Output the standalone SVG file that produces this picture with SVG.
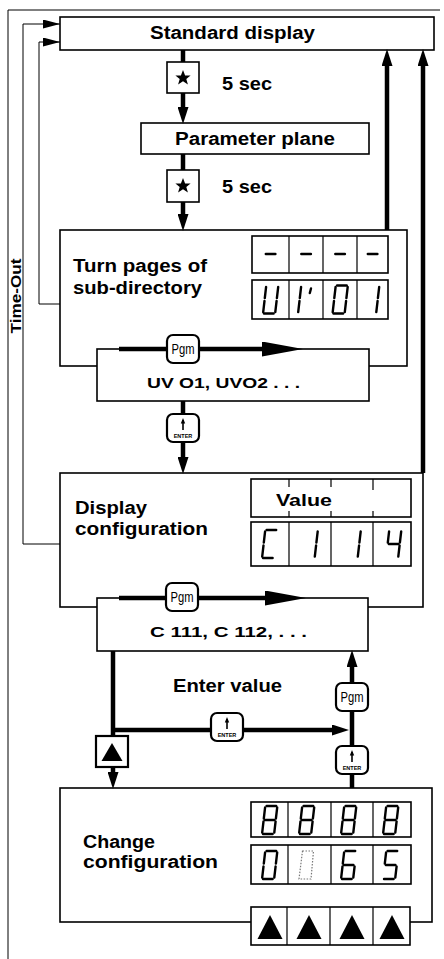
<svg xmlns="http://www.w3.org/2000/svg" xmlns:xlink="http://www.w3.org/1999/xlink" width="444" height="959" viewBox="0 0 444 959">
<style>
text{font-family:"Liberation Sans",Arial,sans-serif;font-weight:bold;fill:#000}
.box{fill:#fff;stroke:#000;stroke-width:1.6}
.thin{fill:none;stroke:#000;stroke-width:1}
.thick{fill:none;stroke:#000;stroke-width:4.5}
.btn{fill:#fff;stroke:#000;stroke-width:2.2}
.cell{fill:#fff;stroke:#000;stroke-width:1.6}
.div{stroke:#000;stroke-width:1.2}
.seg{stroke:#000;stroke-width:2.4;stroke-linecap:round;fill:none}
.segg{stroke:#777;stroke-width:1.2;stroke-dasharray:1.5 1.5;fill:none}
.lbl{font-size:18px}
.code{font-size:15px}
</style>
<defs>
<marker id="ah" markerUnits="userSpaceOnUse" markerWidth="18" markerHeight="11" refX="8" refY="5.5" orient="auto">
<path d="M0,0 L17,5.5 L0,11 z" fill="#000"/>
</marker>
<marker id="ahs" markerUnits="userSpaceOnUse" markerWidth="18" markerHeight="10" refX="17" refY="4.5" orient="auto">
<path d="M0,0 L17,4.5 L0,9 z" fill="#000"/>
</marker>
<marker id="ahb" markerUnits="userSpaceOnUse" markerWidth="42" markerHeight="16" refX="20" refY="7.5" orient="auto">
<path d="M0,0 L41,7.5 L0,15 z" fill="#000"/>
</marker>
<path id="sa" class="seg" d="M4.6,0 L14.2,0"/>
<path id="sb" class="seg" d="M15.2,1.4 L13.9,12.6"/>
<path id="sc" class="seg" d="M13.6,15.4 L12.3,26.6"/>
<path id="sd" class="seg" d="M1,28 L10.6,28"/>
<path id="se" class="seg" d="M0.2,26.6 L1.5,15.4"/>
<path id="sf" class="seg" d="M1.8,12.6 L3.1,1.4"/>
<path id="sg" class="seg" d="M2.8,14 L12.4,14"/>
<g id="star"><polygon points="0,-8 2.1,-2.6 7.6,-2.5 3.3,1 4.9,6.5 0,3.3 -4.9,6.5 -3.3,1 -7.6,-2.5 -2.1,-2.6" fill="#000"/></g>
<g id="enter">
<rect x="-16" y="-14" width="32" height="28" rx="6" class="btn"/>
<path d="M0,-8 V2" stroke="#000" stroke-width="1.6"/>
<path d="M-2.2,-4.5 L0,-10 L2.2,-4.5 z" fill="#000"/>
<text x="0" y="9.5" font-size="5.5" text-anchor="middle">ENTER</text>
</g>
<g id="pgm">
<rect x="-16" y="-14" width="32" height="28" rx="6" class="btn"/>
<text x="0" y="5" font-size="14" text-anchor="middle" textLength="23" lengthAdjust="spacingAndGlyphs" style="font-weight:normal">Pgm</text>
</g>
<polygon id="tri" points="0,-12 12.5,12 -12.5,12" fill="#000"/>
<polygon id="tris" points="0,-9 10.5,9 -10.5,9" fill="#000"/>
</defs>

<g id="frame">
<path class="thin" d="M8,959 V10 H440"/>
</g>

<g id="standard-display">
<rect class="box" x="60" y="17" width="374" height="33"/>
<text class="lbl" x="150" y="39" font-size="19" textLength="165" lengthAdjust="spacingAndGlyphs">Standard display</text>
</g>

<g id="parameter-plane">
<rect class="box" x="141" y="123" width="228" height="31"/>
<text class="lbl" x="175" y="145" textLength="160" lengthAdjust="spacingAndGlyphs">Parameter plane</text>
</g>

<g id="turn-pages">
<rect class="box" x="60" y="230" width="347" height="136"/>
<text class="lbl" x="73" y="272" textLength="134" lengthAdjust="spacingAndGlyphs">Turn pages of</text>
<text class="lbl" x="73" y="294" textLength="129" lengthAdjust="spacingAndGlyphs">sub-directory</text>
<rect class="cell" x="252" y="236" width="136" height="37"/>
<path class="div" d="M289,236 V273 M323,236 V273 M357,236 V273"/>
<use href="#sg" x="263" y="240"/>
<use href="#sg" x="298.5" y="240"/>
<use href="#sg" x="332.5" y="240"/>
<use href="#sg" x="365" y="240"/>
<rect class="cell" x="252" y="280" width="136" height="39"/>
<path class="div" d="M289,280 V319 M323,280 V319 M357,280 V319"/>
<g transform="translate(263,285.5)"><use href="#sb"/><use href="#sc"/><use href="#sd"/><use href="#se"/><use href="#sf"/></g>
<g transform="translate(298,285.5)"><use href="#se"/><use href="#sf"/><path class="seg" d="M13,3 L11.8,7.5"/></g>
<g transform="translate(332.5,285.5)"><use href="#sa"/><use href="#sb"/><use href="#sc"/><use href="#sd"/><use href="#se"/><use href="#sf"/></g>
<g transform="translate(364,285.5)"><use href="#sb"/><use href="#sc"/></g>
</g>

<g id="uv-list">
<rect class="box" x="97" y="349" width="272" height="52"/>
<text class="code" x="147" y="388" textLength="153" lengthAdjust="spacingAndGlyphs">UV O1, UVO2 . . .</text>
</g>

<g id="display-configuration">
<rect class="box" x="60" y="473" width="363" height="134"/>
<text class="lbl" x="75" y="514" textLength="72" lengthAdjust="spacingAndGlyphs">Display</text>
<text class="lbl" x="75" y="535" textLength="133" lengthAdjust="spacingAndGlyphs">configuration</text>
<rect class="cell" x="251" y="479" width="160" height="38"/>
<path class="div" d="M289,479 V487 M331,479 V487 M373,479 V490 M289,511 V517 M331,511 V517 M373,511 V517"/>
<text x="304" y="506" font-size="17" text-anchor="middle" textLength="56" lengthAdjust="spacingAndGlyphs">Value</text>
<rect class="cell" x="251" y="522" width="160" height="44"/>
<path class="div" d="M289,522 V566 M331,522 V566 M373,522 V566"/>
<g transform="translate(262,530)"><use href="#sa"/><use href="#sd"/><use href="#se"/><use href="#sf"/></g>
<g transform="translate(302.5,530)"><use href="#sb"/><use href="#sc"/></g>
<g transform="translate(345.5,530)"><use href="#sb"/><use href="#sc"/></g>
<g transform="translate(386,530)"><use href="#sb"/><use href="#sc"/><use href="#sf"/><use href="#sg"/></g>
</g>

<g id="c-list">
<rect class="box" x="97" y="598" width="271" height="53"/>
<text class="code" x="150" y="637" textLength="157" lengthAdjust="spacingAndGlyphs">C 111, C 112, . . .</text>
</g>

<g id="change-configuration">
<rect class="box" x="60" y="788" width="372" height="134"/>
<text class="lbl" x="83" y="848" textLength="72" lengthAdjust="spacingAndGlyphs">Change</text>
<text class="lbl" x="83" y="868" textLength="135" lengthAdjust="spacingAndGlyphs">configuration</text>
<rect class="cell" x="251" y="802" width="160" height="35"/>
<path class="div" d="M288,802 V837 M331,802 V837 M373,802 V837"/>
<g transform="translate(262,806)"><use href="#sa"/><use href="#sb"/><use href="#sc"/><use href="#sd"/><use href="#se"/><use href="#sf"/><use href="#sg"/></g>
<g transform="translate(299,806)"><use href="#sa"/><use href="#sb"/><use href="#sc"/><use href="#sd"/><use href="#se"/><use href="#sf"/><use href="#sg"/></g>
<g transform="translate(341,806)"><use href="#sa"/><use href="#sb"/><use href="#sc"/><use href="#sd"/><use href="#se"/><use href="#sf"/><use href="#sg"/></g>
<g transform="translate(383,806)"><use href="#sa"/><use href="#sb"/><use href="#sc"/><use href="#sd"/><use href="#se"/><use href="#sf"/><use href="#sg"/></g>
<rect class="cell" x="251" y="845" width="160" height="39"/>
<path class="div" d="M288,845 V884 M331,845 V884 M373,845 V884"/>
<g transform="translate(262,851)"><use href="#sa"/><use href="#sb"/><use href="#sc"/><use href="#sd"/><use href="#se"/><use href="#sf"/></g>
<g transform="translate(299,851)"><path class="segg" d="M3.5,0 H14.5 L12,28 H0 z"/></g>
<g transform="translate(341,851)"><use href="#sa"/><use href="#sc"/><use href="#sd"/><use href="#se"/><use href="#sf"/><use href="#sg"/></g>
<g transform="translate(383,851)"><use href="#sa"/><use href="#sc"/><use href="#sd"/><use href="#sf"/><use href="#sg"/></g>
<rect class="cell" x="251" y="907" width="159" height="38"/>
<path class="div" d="M287,907 V945 M330,907 V945 M373,907 V945"/>
<use href="#tri" x="270" y="927"/>
<use href="#tri" x="309" y="927"/>
<use href="#tri" x="352" y="927"/>
<use href="#tri" x="392" y="927"/>
</g>

<g id="connectors">
<path class="thin" d="M60,544 H23 V24 H60" marker-end="url(#ahs)"/>
<path class="thin" d="M60,304 H39 V42 H60" marker-end="url(#ahs)"/>
<path class="thick" d="M183,50 V62"/>
<path class="thick" d="M183,93 V115" marker-end="url(#ah)"/>
<path class="thick" d="M183,154 V170"/>
<path class="thick" d="M183,202 V222" marker-end="url(#ah)"/>
<path class="thick" d="M183,401 V417"/>
<path class="thick" d="M183,440 V465" marker-end="url(#ah)"/>
<path class="thick" d="M387,230 V58" marker-end="url(#ah)"/>
<path class="thick" d="M423,473 V58" marker-end="url(#ah)"/>
<path class="thick" d="M119,349 H282" marker-end="url(#ahb)"/>
<path class="thick" d="M119,598 H285" marker-end="url(#ahb)"/>
<path class="thick" d="M113,651 V736"/>
<path class="thick" d="M113,767 V780" marker-end="url(#ah)"/>
<path class="thick" d="M113,730 H340" marker-end="url(#ah)"/>
<path class="thick" d="M352,788 V659" marker-end="url(#ah)"/>
</g>

<g id="star1">
<rect class="box" x="167" y="62" width="32" height="31"/>
<use href="#star" x="183" y="78"/>
<text class="lbl" x="222" y="90" textLength="50" lengthAdjust="spacingAndGlyphs">5 sec</text>
</g>
<g id="star2">
<rect class="box" x="167" y="170" width="32" height="32"/>
<use href="#star" x="183" y="186"/>
<text class="lbl" x="222" y="193" textLength="50" lengthAdjust="spacingAndGlyphs">5 sec</text>
</g>
<g id="pgm1"><use href="#pgm" x="183" y="349"/></g>
<g id="enter1"><use href="#enter" x="183" y="428"/></g>
<g id="pgm2"><use href="#pgm" x="182" y="597"/></g>
<g id="enter-value">
<text class="lbl" x="173" y="692" font-size="19" textLength="109" lengthAdjust="spacingAndGlyphs">Enter value</text>
</g>
<g id="enter2"><use href="#enter" x="227" y="727"/></g>
<g id="pgm3"><use href="#pgm" x="352" y="697"/></g>
<g id="enter3"><use href="#enter" x="352" y="760"/></g>
<g id="up-key">
<rect class="btn" x="96" y="736" width="32" height="31"/>
<use href="#tris" x="112" y="752"/>
</g>

<g id="time-out">
<text x="21" y="296" font-size="15" text-anchor="middle" transform="rotate(-90 21 296)" textLength="75" lengthAdjust="spacingAndGlyphs">Time-Out</text>
</g>
</svg>
